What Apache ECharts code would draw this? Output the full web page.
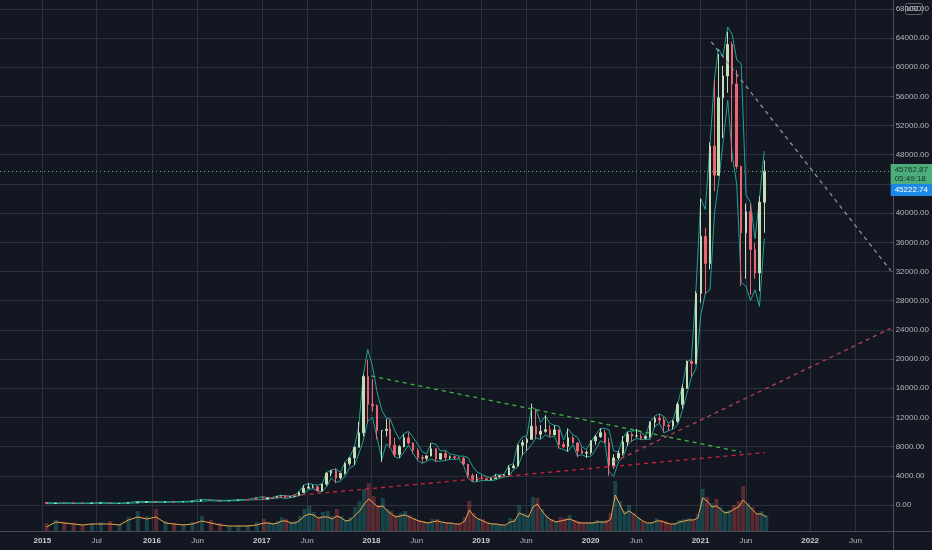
<!DOCTYPE html>
<html>
<head>
<meta charset="utf-8">
<title>BTCUSD</title>
<script src="https://cdn.jsdelivr.net/npm/echarts@6/dist/echarts.min.js"></script>
<style>
  html, body { margin: 0; padding: 0; background: #131722; }
  #chart { width: 932px; height: 550px; }
</style>
</head>
<body>
<div id="chart"></div>
<script>
// BTC/USD 2015 - Aug 2021: monthly candles for 2015-16, half-month candles after that.
var dates = [
  '2015-01-15','2015-02-15','2015-03-15','2015-04-15','2015-05-15','2015-06-15','2015-07-15','2015-08-15','2015-09-15','2015-10-15','2015-11-15','2015-12-15',
  '2016-01-15','2016-02-15','2016-03-15','2016-04-15','2016-05-15','2016-06-15','2016-07-15','2016-08-15','2016-09-15','2016-10-15','2016-11-15','2016-12-15',
  '2017-01-08','2017-01-23','2017-02-08','2017-02-23','2017-03-08','2017-03-23','2017-04-08','2017-04-23','2017-05-08','2017-05-23','2017-06-08','2017-06-23',
  '2017-07-08','2017-07-23','2017-08-08','2017-08-23','2017-09-08','2017-09-23','2017-10-08','2017-10-23','2017-11-08','2017-11-23','2017-12-08','2017-12-23',
  '2018-01-08','2018-01-23','2018-02-08','2018-02-23','2018-03-08','2018-03-23','2018-04-08','2018-04-23','2018-05-08','2018-05-23','2018-06-08','2018-06-23',
  '2018-07-08','2018-07-23','2018-08-08','2018-08-23','2018-09-08','2018-09-23','2018-10-08','2018-10-23','2018-11-08','2018-11-23','2018-12-08','2018-12-23',
  '2019-01-08','2019-01-23','2019-02-08','2019-02-23','2019-03-08','2019-03-23','2019-04-08','2019-04-23','2019-05-08','2019-05-23','2019-06-08','2019-06-23',
  '2019-07-08','2019-07-23','2019-08-08','2019-08-23','2019-09-08','2019-09-23','2019-10-08','2019-10-23','2019-11-08','2019-11-23','2019-12-08','2019-12-23',
  '2020-01-08','2020-01-23','2020-02-08','2020-02-23','2020-03-08','2020-03-23','2020-04-08','2020-04-23','2020-05-08','2020-05-23','2020-06-08','2020-06-23',
  '2020-07-08','2020-07-23','2020-08-08','2020-08-23','2020-09-08','2020-09-23','2020-10-08','2020-10-23','2020-11-08','2020-11-23','2020-12-08','2020-12-23',
  '2021-01-08','2021-01-23','2021-02-08','2021-02-23','2021-03-08','2021-03-23','2021-04-08','2021-04-23','2021-05-08','2021-05-23','2021-06-08','2021-06-23',
  '2021-07-08','2021-07-23','2021-08-08'
];

var opens = [
  320, 218, 254, 244, 236, 230, 263, 284, 231, 236, 314, 377,
  430, 368, 437, 416, 448, 531, 673, 624, 575, 609, 698, 742,
  963, 820, 965, 1005, 1190, 1240, 1080, 1180, 1350, 1720, 2300, 2450, 2480, 1930, 2870, 4350, 4700, 3700, 4350, 5700, 6450, 7900, 9900, 17600,
  13800, 13600, 10200, 10200, 10400, 8200, 6900, 8000, 9200, 8500, 7500, 6500, 6400, 6730, 7700, 6300, 7050, 6500, 6600, 6480, 6400, 5600, 4000, 3400,
  3700, 3600, 3450, 3620, 3850, 4000, 4100, 5100, 5350, 8200, 8550, 9000, 10800, 9700, 10100, 10300, 9600, 10300, 8300, 8000, 9200, 8500, 7400, 7100,
  7200, 8800, 9350, 9900, 8550, 5400, 6450, 7100, 8650, 9700, 9450, 9450, 9150, 9400, 11350, 11850, 11650, 10900, 10800, 11500, 13800, 16000, 19700, 19400,
  29000, 36800, 33100, 49200, 45200, 55800, 58800, 63100, 57700, 46400, 37300, 40200, 35000, 31800, 41500
];
var closes = [
  218, 254, 244, 236, 230, 263, 284, 231, 236, 314, 377, 430,
  368, 437, 416, 448, 531, 673, 624, 575, 609, 698, 742, 963,
  820, 965, 1005, 1190, 1240, 1080, 1180, 1350, 1720, 2300, 2450, 2480, 1930, 2870, 4350, 4700, 3700, 4350, 5700, 6450, 7900, 9900, 17600, 13800,
  13600, 10200, 10200, 10400, 8200, 6900, 8000, 9200, 8500, 7500, 6500, 6400, 6730, 7700, 6300, 7050, 6500, 6600, 6480, 6400, 5600, 4000, 3400, 3700,
  3600, 3450, 3620, 3850, 4000, 4100, 5100, 5350, 8200, 8550, 9000, 10800, 9700, 10100, 10300, 9600, 10300, 8300, 8000, 9200, 8500, 7400, 7100, 7200,
  8800, 9350, 9900, 8550, 5400, 6450, 7100, 8650, 9700, 9450, 9450, 9150, 9400, 11350, 11850, 11650, 10900, 10800, 11500, 13800, 16000, 19700, 19400, 29000,
  36800, 33100, 49200, 45200, 55800, 58800, 63100, 57700, 46400, 37300, 40200, 35000, 31800, 41500, 45762.87
];
var lows = [
  170, 212, 236, 214, 228, 220, 253, 199, 224, 235, 300, 350,
  355, 366, 406, 412, 440, 525, 600, 530, 570, 605, 680, 740,
  750, 820, 940, 1000, 980, 890, 1060, 1170, 1350, 1720, 2300, 2300, 1900, 1840, 2650, 3950, 2980, 3500, 4150, 5380, 5500, 7900, 9400, 11200,
  12800, 9000, 5900, 9400, 7800, 6600, 6450, 7900, 8300, 7050, 6100, 5750, 6100, 6650, 5880, 6200, 6100, 6250, 6200, 6350, 5500, 3700, 3200, 3250,
  3500, 3350, 3380, 3600, 3750, 3950, 4080, 5000, 5350, 6800, 7450, 8950, 9100, 9100, 9900, 9350, 9600, 7750, 7800, 7350, 8500, 6550, 7100, 6450,
  6900, 8250, 9200, 8500, 4000, 5000, 6150, 6800, 8100, 8650, 9250, 8900, 9000, 9150, 10650, 11150, 9900, 10150, 10400, 11250, 13200, 15900, 17600, 19300,
  27700, 28900, 32300, 43000, 45100, 50300, 56500, 47000, 46000, 30000, 31000, 28800, 31000, 29300, 37300
];
var highs = [
  320, 265, 300, 261, 247, 268, 317, 285, 245, 335, 495, 466,
  460, 448, 440, 467, 548, 780, 704, 628, 625, 720, 755, 975,
  1150, 970, 1030, 1210, 1300, 1250, 1210, 1350, 1850, 2760, 2980, 2770, 2650, 2900, 4480, 4750, 4980, 4400, 5850, 6450, 7900, 11400, 17900, 19900,
  17250, 13800, 10300, 11800, 11700, 9200, 8200, 9700, 9950, 8550, 7780, 6850, 6800, 8500, 7760, 7100, 7400, 6800, 6750, 6600, 6600, 5600, 4300, 4250,
  4100, 3700, 3700, 4200, 4050, 4150, 5450, 5650, 8300, 8950, 9300, 13900, 13100, 10950, 12300, 10950, 10950, 10350, 8700, 10500, 9500, 8600, 7900, 7500,
  8900, 9600, 10500, 10300, 9200, 6950, 7450, 9450, 10000, 9950, 10400, 9800, 9500, 11450, 12100, 12450, 12050, 11150, 11700, 14100, 16500, 19800, 19900, 29300,
  41950, 38000, 49700, 58350, 61800, 60200, 64850, 63500, 59600, 46500, 41300, 41300, 35900, 42300, 47200
];

// envelope bands (teal)
var bandUpper = [
  330, 275, 300, 265, 250, 275, 320, 300, 250, 340, 480, 470,
  465, 450, 445, 470, 555, 770, 720, 640, 630, 725, 760, 970,
  1140, 1000, 1040, 1220, 1310, 1280, 1220, 1360, 1820, 2700, 2960, 2800, 2700, 2900, 4450, 4800, 4950, 4500, 5850, 6500, 7900, 10800, 17800, 21300,
  19000, 15500, 13000, 11900, 11800, 10200, 9000, 9800, 10100, 9300, 8300, 7300, 7000, 8500, 8300, 7400, 7500, 7000, 6900, 6700, 6700, 6500, 5300, 4500,
  4200, 3900, 3750, 4200, 4100, 4200, 5400, 5700, 8400, 9300, 9500, 13400, 13100, 11300, 12200, 11200, 10900, 10800, 8900, 10400, 9600, 9300, 8000, 7600,
  8700, 9600, 10500, 10500, 10300, 7400, 7300, 9200, 10100, 10100, 10300, 9900, 9500, 11400, 12200, 12500, 12100, 11200, 11700, 13900, 16400, 19600, 20000, 29500,
  42000, 40500, 49500, 58500, 62500, 61500, 65500, 64500, 61000, 60500, 42500, 41500, 36500, 42000, 48500
];
var bandLower = [
  175, 200, 230, 215, 224, 220, 250, 205, 222, 232, 290, 350,
  355, 360, 404, 410, 430, 500, 590, 535, 568, 600, 680, 720,
  760, 780, 900, 960, 1000, 900, 1000, 1100, 1300, 1500, 2100, 2250, 1950, 1800, 2500, 3700, 3100, 3300, 3900, 5100, 5400, 7000, 8800, 11500,
  12000, 9200, 6300, 8400, 7900, 6600, 6400, 7300, 8200, 7100, 6100, 5700, 6000, 6300, 6000, 6000, 6100, 6250, 6250, 6300, 5400, 3700, 3150, 3200,
  3350, 3350, 3350, 3450, 3650, 3850, 3900, 4800, 5200, 6900, 7500, 8300, 9200, 9000, 9600, 9300, 9400, 7800, 7600, 7300, 8300, 6700, 6900, 6600,
  6700, 7600, 8800, 8500, 4600, 3900, 5900, 6500, 8200, 8800, 9100, 9000, 9000, 9000, 10800, 11200, 9900, 10200, 10400, 11000, 13000, 15300, 17500, 18700,
  26000, 29000, 29500, 40000, 44000, 49500, 55500, 48000, 44000, 30500, 30000, 28000, 29500, 27200, 36500
];

// volume, in scaled units (overlay pane)
var volume = [
  8, 11, 9, 8, 6, 8, 9, 10, 7, 14, 20, 15,
  22, 10, 8, 7, 9, 15, 11, 8, 5, 6, 6, 9,
  12, 9, 8, 10, 14, 12, 9, 10, 15, 22, 25, 19, 14, 19, 20, 15, 22, 15, 11, 14, 24, 30, 42, 48,
  35, 26, 33, 22, 20, 16, 18, 20, 16, 13, 11, 10, 9, 12, 12, 9, 9, 8, 7, 7, 14, 30, 18, 13,
  12, 8, 8, 7, 7, 6, 13, 12, 26, 18, 16, 34, 33, 22, 16, 12, 10, 14, 13, 16, 11, 10, 9, 9,
  9, 11, 10, 11, 18, 50, 30, 20, 26, 18, 14, 10, 8, 9, 13, 11, 10, 7, 8, 11, 12, 13, 12, 17,
  42, 34, 28, 32, 24, 20, 21, 26, 30, 45, 28, 24, 18, 20, 16
];
var volumeMa = [
  4, 9, 8, 7, 6, 7, 7, 7, 6, 11, 14, 12,
  14, 8, 7, 6, 7, 10, 8, 6, 5, 5, 5, 6,
  8, 8, 7, 8, 10, 10, 8, 8, 11, 15, 17, 16, 13, 14, 14, 12, 15, 13, 10, 11, 16, 20, 27, 32,
  28, 24, 25, 20, 17, 14, 15, 16, 14, 12, 10, 9, 8, 9, 10, 9, 8, 8, 7, 7, 10, 21, 15, 12,
  10, 8, 7, 7, 6, 6, 9, 10, 18, 16, 14, 24, 27, 20, 14, 11, 9, 10, 11, 12, 10, 8, 8, 8,
  8, 9, 9, 9, 12, 36, 26, 17, 20, 17, 13, 10, 8, 8, 10, 10, 8, 7, 7, 9, 10, 11, 11, 13,
  33, 30, 24, 25, 22, 18, 19, 22, 24, 31, 26, 21, 17, 17, 14
];

// drawn trend lines [date, price]
var greenLine = [['2018-01-04', 17680], ['2021-05-23', 7260]];
var redLowerLine = [['2016-11-10', 685], ['2021-08-11', 7190]];
var redUpperLine = [['2020-03-23', 5890], ['2022-10-04', 24200]];
var greyLine = [['2021-02-12', 63480], ['2022-10-04', 32130]];

var tickDates = ['2015-01-01','2015-07-01','2016-01-01','2016-06-01','2017-01-01','2017-06-01','2018-01-01','2018-06-01',
                 '2019-01-01','2019-06-01','2020-01-01','2020-06-01','2021-01-01','2021-06-01','2022-01-01','2022-06-01'];
var tickLabels = ['2015','Jul','2016','Jun','2017','Jun','2018','Jun','2019','Jun','2020','Jun','2021','Jun','2022','Jun'];

var lastPrice = 45762.87;
var lastCountdown = '05:49:18';
var maPrice = 45222.74;

(function () {
  var FONT = "'Liberation Sans', sans-serif";
  var GRID = '#2c303c';
  var TEXT = '#b2b5be';

  function ts(d) { return +echarts.time.parse(d); }
  var X_MIN = ts('2014-08-13');
  var X_MAX = ts('2022-10-04');

  var tickValues = tickDates.map(ts);

  var candles = dates.map(function (d, i) {
    return [ts(d), opens[i], closes[i], lows[i], highs[i]];
  });
  var volBars = dates.map(function (d, i) {
    var up = closes[i] >= opens[i];
    return {
      value: [ts(d), volume[i]],
      itemStyle: { color: up ? 'rgba(38,166,154,0.32)' : 'rgba(239,83,80,0.32)' }
    };
  });
  function pairs(arr) {
    return dates.map(function (d, i) { return [ts(d), arr[i]]; });
  }
  function trend(points, color) {
    return {
      type: 'line', xAxisIndex: 1, yAxisIndex: 1,
      data: points.map(function (p) { return [ts(p[0]), p[1]]; }),
      symbol: 'none', silent: true, z: 6,
      lineStyle: { color: color, width: 1.3, type: [4, 4] }
    };
  }

  var chart = echarts.init(document.getElementById('chart'), null, { renderer: 'canvas' });

  chart.setOption({
    backgroundColor: '#131722',
    animation: false,
    textStyle: { fontFamily: FONT },
    grid: [
      { left: 0, right: 39, top: 0, bottom: 19 },
      { left: 0, right: 39, top: 8.8, bottom: 45 },
      { left: 0, right: 39, top: 431, bottom: 19 }
    ],
    xAxis: [
      {
        type: 'value', gridIndex: 0, min: X_MIN, max: X_MAX,
        axisLine: { show: false },
        axisTick: { show: false, customValues: tickValues },
        splitLine: { show: true, lineStyle: { color: GRID, width: 1 } },
        axisLabel: {
          customValues: tickValues,
          margin: 6,
          fontSize: 8,
          color: TEXT,
          formatter: function (v) {
            var i = tickValues.indexOf(v);
            if (i < 0) return '';
            var t = tickLabels[i];
            return /^\d+$/.test(t) ? '{y|' + t + '}' : t;
          },
          rich: { y: { fontWeight: 'bold', fontSize: 8, color: '#c9ccd4', fontFamily: FONT } }
        }
      },
      { type: 'value', gridIndex: 1, min: X_MIN, max: X_MAX, show: false, splitLine: { show: false } },
      { type: 'value', gridIndex: 2, min: X_MIN, max: X_MAX, show: false, splitLine: { show: false } }
    ],
    yAxis: [
      { gridIndex: 0, min: 0, max: 1, show: false, splitLine: { show: false } },
      {
        gridIndex: 1, position: 'right', min: 0, max: 68000, interval: 4000,
        axisLine: { show: false },
        axisTick: { show: true, length: 3, lineStyle: { color: '#4a4e5a' } },
        axisLabel: {
          margin: 5, fontSize: 8, color: TEXT,
          formatter: function (v) { return v.toFixed(2); }
        },
        splitLine: { show: true, lineStyle: { color: GRID, width: 1 } }
      },
      { gridIndex: 2, min: 0, max: 100, show: false, splitLine: { show: false } }
    ],
    series: [
      {
        type: 'bar', xAxisIndex: 2, yAxisIndex: 2, data: volBars,
        barWidth: 4, silent: true, z: 1
      },
      {
        type: 'line', xAxisIndex: 2, yAxisIndex: 2, data: pairs(volumeMa),
        symbol: 'none', silent: true, z: 2,
        lineStyle: { color: '#f0a24a', width: 1 }
      },
      {
        type: 'line', xAxisIndex: 1, yAxisIndex: 1, data: pairs(bandUpper),
        symbol: 'none', silent: true, z: 3,
        lineStyle: { color: '#22a293', width: 1 }
      },
      {
        type: 'line', xAxisIndex: 1, yAxisIndex: 1, data: pairs(bandLower),
        symbol: 'none', silent: true, z: 3,
        lineStyle: { color: '#22a293', width: 1 }
      },
      {
        type: 'candlestick', xAxisIndex: 1, yAxisIndex: 1, data: candles,
        barWidth: 2, silent: true, z: 4,
        itemStyle: {
          color: '#c4ddb4', color0: '#ea6672',
          borderColor: '#c4ddb4', borderColor0: '#ea6672', borderWidth: 1
        },
        markLine: {
          silent: true, symbol: ['none', 'none'], animation: false,
          data: [
            {
              yAxis: lastPrice,
              lineStyle: { color: '#6aa88a', type: [1, 3], width: 1 },
              label: {
                show: true, position: 'end', distance: 0,
                formatter: lastPrice.toFixed(2) + '\n' + lastCountdown,
                backgroundColor: '#4cad7b', color: '#123322',
                fontSize: 8, lineHeight: 9, padding: [1, 4, 1, 4], offset: [0, 3]
              }
            },
            {
              yAxis: maPrice,
              lineStyle: { color: 'rgba(0,0,0,0)', width: 1 },
              label: {
                show: true, position: 'end', distance: 0,
                formatter: maPrice.toFixed(2),
                backgroundColor: '#1e88e5', color: '#ffffff',
                fontSize: 8, lineHeight: 10, padding: [1, 4, 1, 4], offset: [0, 15]
              }
            }
          ]
        }
      },
      trend(greenLine, '#43b543'),
      trend(redLowerLine, '#c8243a'),
      trend(redUpperLine, '#b8415e'),
      trend(greyLine, '#8d919b')
    ],
    graphic: [
      { type: 'line', silent: true, shape: { x1: 893.5, y1: 0, x2: 893.5, y2: 550 }, style: { stroke: '#4a4e5a', lineWidth: 1 } },
      { type: 'line', silent: true, shape: { x1: 0, y1: 531.5, x2: 932, y2: 531.5 }, style: { stroke: '#4a4e5a', lineWidth: 1 } },
      {
        type: 'group', left: 905, top: 3, silent: true,
        children: [
          { type: 'rect', shape: { x: 0, y: 0, width: 17, height: 11, r: 2 }, style: { fill: '#131722', stroke: '#5d606b', lineWidth: 1 } },
          { type: 'text', x: 8.5, y: 5.5, style: { text: 'USD', fill: TEXT, font: '7px ' + FONT, align: 'center', verticalAlign: 'middle' } }
        ]
      }
    ]
  });
})();
</script>
</body>
</html>
